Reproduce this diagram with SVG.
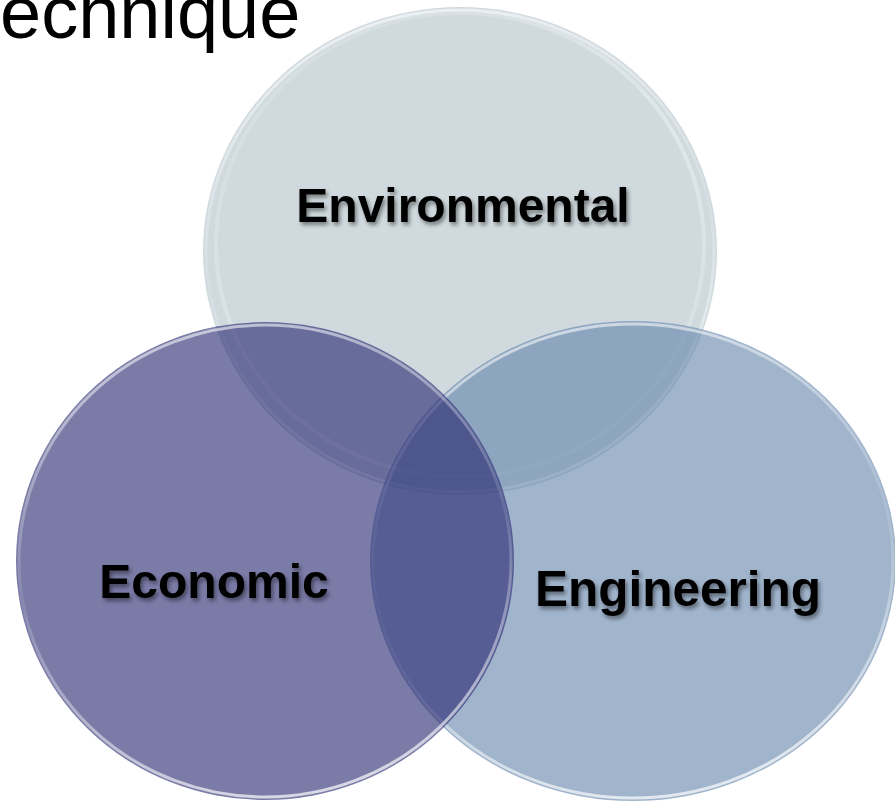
<svg xmlns="http://www.w3.org/2000/svg" width="895" height="805" viewBox="0 0 895 805">
<style>
.lbl{font-family:"Liberation Sans",Arial,sans-serif;font-weight:bold;font-size:48px;fill:#000;text-anchor:middle;filter:url(#ts)}
.title{font-family:"Liberation Sans",Arial,sans-serif;font-size:74px;fill:#000}
.rim{fill:none;stroke:url(#rimg);stroke-width:3}
.rim2{fill:none;stroke:url(#rimg2);stroke-width:4}
</style>
<defs>
<filter id="ts" x="-10%" y="-30%" width="120%" height="170%">
<feGaussianBlur in="SourceAlpha" stdDeviation="2.2"/>
<feOffset dx="2" dy="3" result="b"/>
<feComponentTransfer><feFuncA type="linear" slope="0.45"/></feComponentTransfer>
<feMerge><feMergeNode/><feMergeNode in="SourceGraphic"/></feMerge>
</filter>
<linearGradient id="rimg" x1="0.3" y1="0" x2="0.5" y2="1">
<stop offset="0" stop-color="#fff" stop-opacity="0.6"/>
<stop offset="0.5" stop-color="#fff" stop-opacity="0.1"/>
<stop offset="1" stop-color="#fff" stop-opacity="0.7"/>
</linearGradient>
<linearGradient id="rimg2" x1="0" y1="0" x2="1" y2="1">
<stop offset="0" stop-color="#fff" stop-opacity="0.05"/>
<stop offset="0.6" stop-color="#fff" stop-opacity="0.35"/>
<stop offset="1" stop-color="#fff" stop-opacity="0.05"/>
</linearGradient>
</defs>
<rect width="895" height="805" fill="#fff"/>
<text class="title" x="0" y="38">echnique</text>
<g id="node-environmental">
<ellipse cx="460" cy="251" rx="257" ry="244" fill="#D0DADE"/>
<ellipse class="rim" cx="460" cy="251" rx="254" ry="241"/>
<ellipse class="rim2" cx="460" cy="245" rx="244" ry="232"/>
<text class="lbl" x="463" y="222">Environmental</text>
</g>
<g id="node-engineering">
<ellipse cx="633" cy="561" rx="263" ry="240" fill="#6182AA" fill-opacity="0.6"/>
<ellipse class="rim" cx="633" cy="561" rx="260" ry="237"/>
<text class="lbl" x="678" y="606" style="font-size:49.5px">Engineering</text>
</g>
<g id="node-economic">
<ellipse cx="265" cy="561" rx="249" ry="239" fill="#23236E" fill-opacity="0.6"/>
<ellipse class="rim" cx="265" cy="561" rx="246" ry="236"/>
<text class="lbl" x="214" y="598">Economic</text>
</g>
<g id="connectors"></g>
</svg>
